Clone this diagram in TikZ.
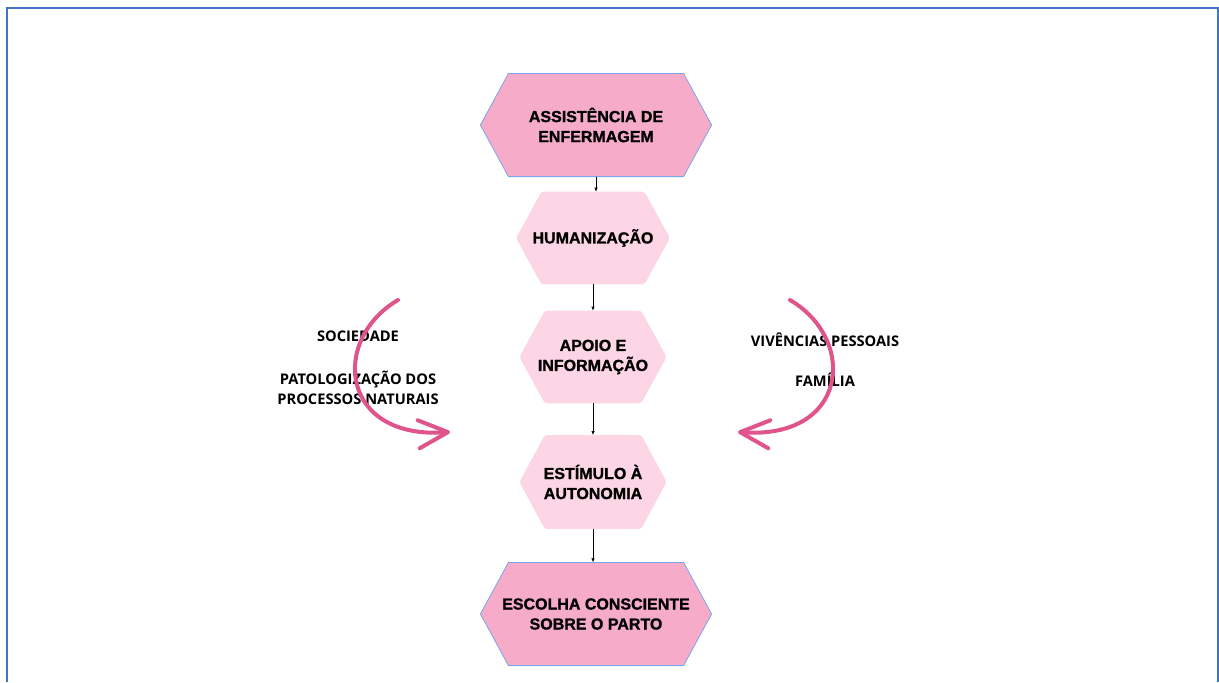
\documentclass[tikz,border=0pt]{standalone}
\usepackage{fontspec}
\setmainfont{Liberation Sans}
\newfontfamily\opensans{Open Sans}
\newfontfamily\grossa[FakeBold=1.2]{Liberation Sans Bold}
\usetikzlibrary{arrows.meta,backgrounds}

\definecolor{rosaforte}{RGB}{246,172,201}
\definecolor{rosaclaro}{RGB}{253,214,229}
\definecolor{rosaseta}{RGB}{224,84,140}
\definecolor{azulborda}{RGB}{68,114,196}
\definecolor{azulclaro}{RGB}{120,165,235}

\tikzset{
  etapa/.style={align=center,inner sep=0pt,font=\grossa\fontsize{12}{15}\selectfont},
  fator/.style={align=center,inner sep=0pt,font=\opensans\bfseries\fontsize{11}{15}\selectfont},
  liga/.style={-{Latex[length=3pt,width=2.5pt]},line width=0.5pt},
  curva/.style={rosaseta,line width=3pt,line cap=round,-{Straight Barb[length=22pt,width=21pt,round]}},
  fundoforte/.style={fill=rosaforte,draw=azulclaro,line width=0.6pt},
  fundoclaro/.style={fill=rosaclaro,rounded corners=2pt}
}

% hexagon behind a node: node, chamfer, style
\newcommand{\hexagono}[3]{%
  \path[#3] (#1.west) -- ([xshift=#2]#1.north west) -- ([xshift=-#2]#1.north east)
    -- (#1.east) -- ([xshift=-#2]#1.south east) -- ([xshift=#2]#1.south west) -- cycle;}

\begin{document}
\begin{tikzpicture}[x=0.75pt,y=-0.75pt]
\useasboundingbox (0,0) rectangle (1219,682);
\draw[azulborda,line width=1.5pt] (7,682) -- (7,8) -- (1218,8) -- (1218,682);

% etapas
\node[etapa,minimum width=173pt,minimum height=77pt] (ass) at (596,125) {ASSISTÊNCIA DE\\ENFERMAGEM};
\node[etapa,minimum width=115pt,minimum height=69pt] (hum) at (593,238) {HUMANIZAÇÃO};
\node[etapa,minimum width=110pt,minimum height=69pt] (apo) at (593,357) {APOIO E\\INFORMAÇÃO};
\node[etapa,minimum width=110pt,minimum height=70pt] (est) at (593,482) {ESTÍMULO À\\AUTONOMIA};
\node[etapa,minimum width=173pt,minimum height=77pt] (esc) at (596,614) {ESCOLHA CONSCIENTE\\SOBRE O PARTO};

\begin{scope}[on background layer]
\hexagono{ass}{21pt}{fundoforte}
\hexagono{esc}{21pt}{fundoforte}
\foreach \n in {hum,apo,est}{
  \hexagono{\n}{19pt}{fundoclaro}
}
\end{scope}

\draw[liga] (ass.south) -- (ass.south |- hum.north);
\draw[liga] (hum.south) -- (apo.north);
\draw[liga] (apo.south) -- (est.north);
\draw[liga] (est.south) -- (est.south |- esc.north);

% fatores
\node[fator] (soc) at (358,336) {SOCIEDADE};
\node[fator] (pat) at (358,388) {PATOLOGIZAÇÃO DOS\\PROCESSOS NATURAIS};
\node[fator] (viv) at (825,340) {VIVÊNCIAS PESSOAIS};
\node[fator] (fam) at (825,380) {FAMÍLIA};

\coordinate (esqIni) at (398,300);
\coordinate (esqFim) at (450,432);
\coordinate (dirIni) at (790,300);
\coordinate (dirFim) at (738,432);
\draw[curva] (esqIni) .. controls (330,340) and (340,440) .. (esqFim);
\draw[curva] (dirIni) .. controls (858,340) and (848,440) .. (dirFim);
\end{tikzpicture}
\end{document}
